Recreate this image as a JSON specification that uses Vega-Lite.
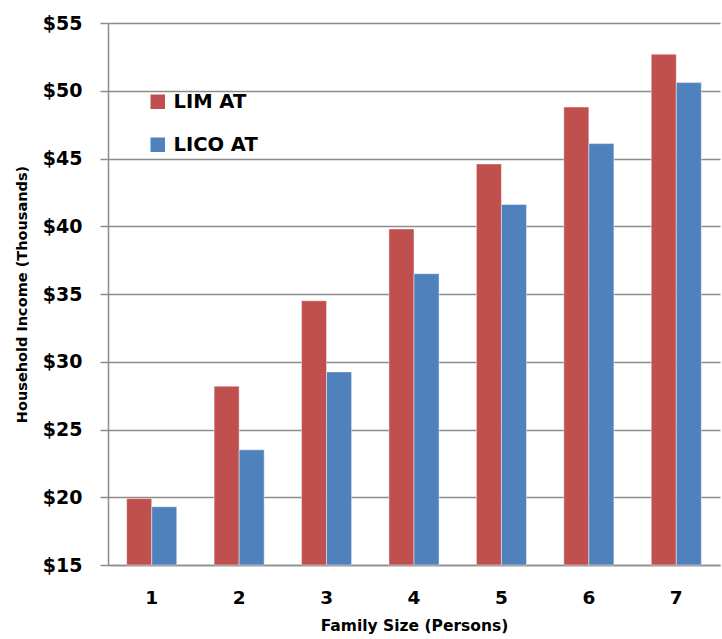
{
  "$schema": "https://vega.github.io/schema/vega-lite/v6.json",
  "autosize": {"type": "none"},
  "width": 612,
  "height": 542,
  "padding": {"left": 108, "top": 23, "right": 2, "bottom": 74},
  "background": "white",
  "config": {
    "font": "DejaVu Sans",
    "view": {"stroke": null},
    "axis": {"labelFont": "DejaVu Sans", "titleFont": "DejaVu Sans", "labelColor": "#000", "titleColor": "#000"},
    "legend": {"labelFont": "DejaVu Sans"}
  },
  "data": {
    "values": [
      {"size": "1", "series": "LIM AT", "value": 19.9},
      {"size": "1", "series": "LICO AT", "value": 19.3},
      {"size": "2", "series": "LIM AT", "value": 28.2},
      {"size": "2", "series": "LICO AT", "value": 23.5},
      {"size": "3", "series": "LIM AT", "value": 34.5},
      {"size": "3", "series": "LICO AT", "value": 29.25},
      {"size": "4", "series": "LIM AT", "value": 39.8},
      {"size": "4", "series": "LICO AT", "value": 36.5},
      {"size": "5", "series": "LIM AT", "value": 44.6},
      {"size": "5", "series": "LICO AT", "value": 41.6},
      {"size": "6", "series": "LIM AT", "value": 48.8},
      {"size": "6", "series": "LICO AT", "value": 46.1},
      {"size": "7", "series": "LIM AT", "value": 52.7},
      {"size": "7", "series": "LICO AT", "value": 50.6}
    ]
  },
  "mark": {"type": "bar", "stroke": "#ffffff", "strokeOpacity": 0.45, "strokeWidth": 1},
  "encoding": {
    "x": {
      "field": "size",
      "type": "ordinal",
      "scale": {"paddingInner": 0.427, "paddingOuter": 0.2135},
      "axis": {
        "title": "Family Size (Persons)",
        "titleFontSize": 15.5,
        "titleFontWeight": "bold",
        "titlePadding": 12,
        "labelAngle": 0,
        "labelFontSize": 18.5,
        "labelFontWeight": "bold",
        "labelPadding": 23,
        "ticks": false,
        "domainColor": "#8c8c8c",
        "domainWidth": 1.5
      }
    },
    "xOffset": {
      "field": "series",
      "type": "nominal",
      "sort": ["LIM AT", "LICO AT"],
      "scale": {"paddingInner": 0, "paddingOuter": 0}
    },
    "y": {
      "field": "value",
      "type": "quantitative",
      "scale": {"domain": [15, 55], "zero": false, "nice": false},
      "axis": {
        "title": "Household Income (Thousands)",
        "titleFontSize": 14.5,
        "titleFontWeight": "bold",
        "titleX": -86,
        "titleBaseline": "middle",
        "values": [15, 20, 25, 30, 35, 40, 45, 50, 55],
        "format": "$.0f",
        "labelFontSize": 19,
        "labelFontWeight": "bold",
        "labelPadding": 18,
        "tickSize": 8,
        "tickColor": "#8c8c8c",
        "tickWidth": 1.5,
        "grid": true,
        "gridColor": "#8c8c8c",
        "gridWidth": 1.5,
        "domainColor": "#8c8c8c",
        "domainWidth": 1.5
      }
    },
    "y2": {"datum": 15},
    "color": {
      "field": "series",
      "type": "nominal",
      "scale": {"domain": ["LIM AT", "LICO AT"], "range": ["#C0504D", "#4F81BD"]},
      "legend": {
        "title": null,
        "orient": "none",
        "legendX": 40,
        "legendY": 69,
        "symbolType": "square",
        "symbolSize": 210,
        "symbolStrokeWidth": 0,
        "labelFontSize": 19.5,
        "labelFontWeight": "bold",
        "labelColor": "#000",
        "labelOffset": 6,
        "rowPadding": 22
      }
    }
  }
}
